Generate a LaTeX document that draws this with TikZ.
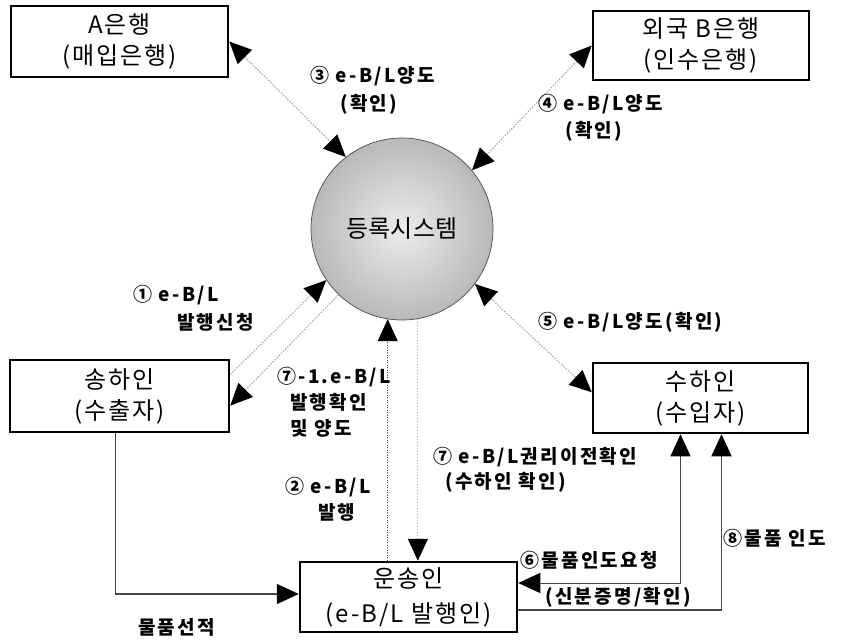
\documentclass[tikz,border=0pt]{standalone}
\usepackage{fontspec}
\setmainfont{Noto Sans CJK KR}
\newfontfamily\krbox{Noto Sans CJK KR}[LetterSpace=8]
\newfontfamily\krlab{Noto Sans CJK KR}[LetterSpace=12]
\usetikzlibrary{arrows.meta}
\begin{document}
\begin{tikzpicture}[x=1pt,y=-1pt,
  >={Triangle[length=22pt,width=20pt,black]},
  box/.style={draw=black, line width=2.5pt, align=center, inner sep=0pt,
    font=\krbox\fontsize{24}{31}\selectfont},
  lab/.style={font=\krlab\bfseries\fontsize{19}{27}\selectfont, inner sep=0pt, anchor=west},
  dotline/.style={draw=gray!70, line width=1.1pt, dash pattern=on 1.5pt off 1.5pt},
  dotdark/.style={draw=black!75, line width=0.9pt, dash pattern=on 1pt off 1.5pt},
  solidline/.style={draw=gray!55!black, line width=1.5pt},
  thinline/.style={draw=gray!55!black, line width=1pt}
]
\useasboundingbox (0,0) rectangle (845,640);

% boxes
\node[box, minimum width=217pt, minimum height=71pt] (A) at (119.5,41.5) {A은행\\(매입은행)};
\node[box, minimum width=216pt, minimum height=69pt] (B) at (701,45.5) {외국 B은행\\(인수은행)};
\node[box, minimum width=219pt, minimum height=72pt] (S) at (119.5,396) {송하인\\(수출자)};
\node[box, minimum width=215pt, minimum height=70pt] (R) at (700.5,398) {수하인\\(수입자)};
\node[box, minimum width=217pt, minimum height=70pt, font=\krbox\fontsize{24}{35}\selectfont] (C) at (408.5,597) {운송인\\(e-B/L 발행인)};

% central system
\node[circle, minimum size=182pt, inner sep=0pt, draw=gray!60!black, line width=0.7pt,
  inner color=gray!15, outer color=gray!55,
  font=\fontsize{24}{28}\selectfont] (sys) at (402,229) {등록시스템};

% connectors
\draw[dotline,<->] (A.east) -- (sys.128);
\draw[dotline,<->] (B.west) -- (sys.40);
\draw[dotline,->] (S.11) -- (sys.214);
\draw[dotline,->] (sys.226) -- (S.-5);
\draw[dotdark,->] (sys.261 |- C.north) -- (sys.261);
\draw[dotline,->] (sys.280) -- (sys.280 |- C.north);
\draw[dotline,<->] (sys.-37) -- (R.177);
\draw[solidline,->] ([xshift=-4pt]S.south) |- ([yshift=3pt]C.west);
\draw[thinline,<->] ([yshift=14pt]C.east) -| ([xshift=-20pt]R.south);
\draw[solidline,->] ([yshift=-13pt]C.east) -| ([xshift=21pt]R.south);

% labels
\node[lab] (l3a) at (310,76) {③ e-B/L양도};
\node[lab] (l3b) at (340,104) {(확인)};
\node[lab] (l4a) at (538,104) {④ e-B/L양도};
\node[lab] (l4b) at (565,131) {(확인)};
\node[lab] (l1a) at (133,295) {① e-B/L};
\node[lab] (l1b) at (177,322) {발행신청};
\node[lab] (l71a) at (277,377) {⑦-1.e-B/L};
\node[lab] (l71b) at (290,402) {발행확인};
\node[lab] (l71c) at (290,428) {및 양도};
\node[lab] (l2a) at (285,487) {② e-B/L};
\node[lab] (l2b) at (318,512) {발행};
\node[lab] (l7a) at (433,457) {⑦ e-B/L권리이전확인};
\node[lab] (l7b) at (445,482) {(수하인 확인)};
\node[lab] (l5) at (538,322) {⑤ e-B/L양도(확인)};
\node[lab] (l6a) at (520,560) {⑥물품인도요청};
\node[lab] (l6b) at (545,597) {(신분증명/확인)};
\node[lab] (l8) at (723,538) {⑧물품 인도};
\node[lab] (lship) at (138,627) {물품선적};
\end{tikzpicture}
\end{document}
